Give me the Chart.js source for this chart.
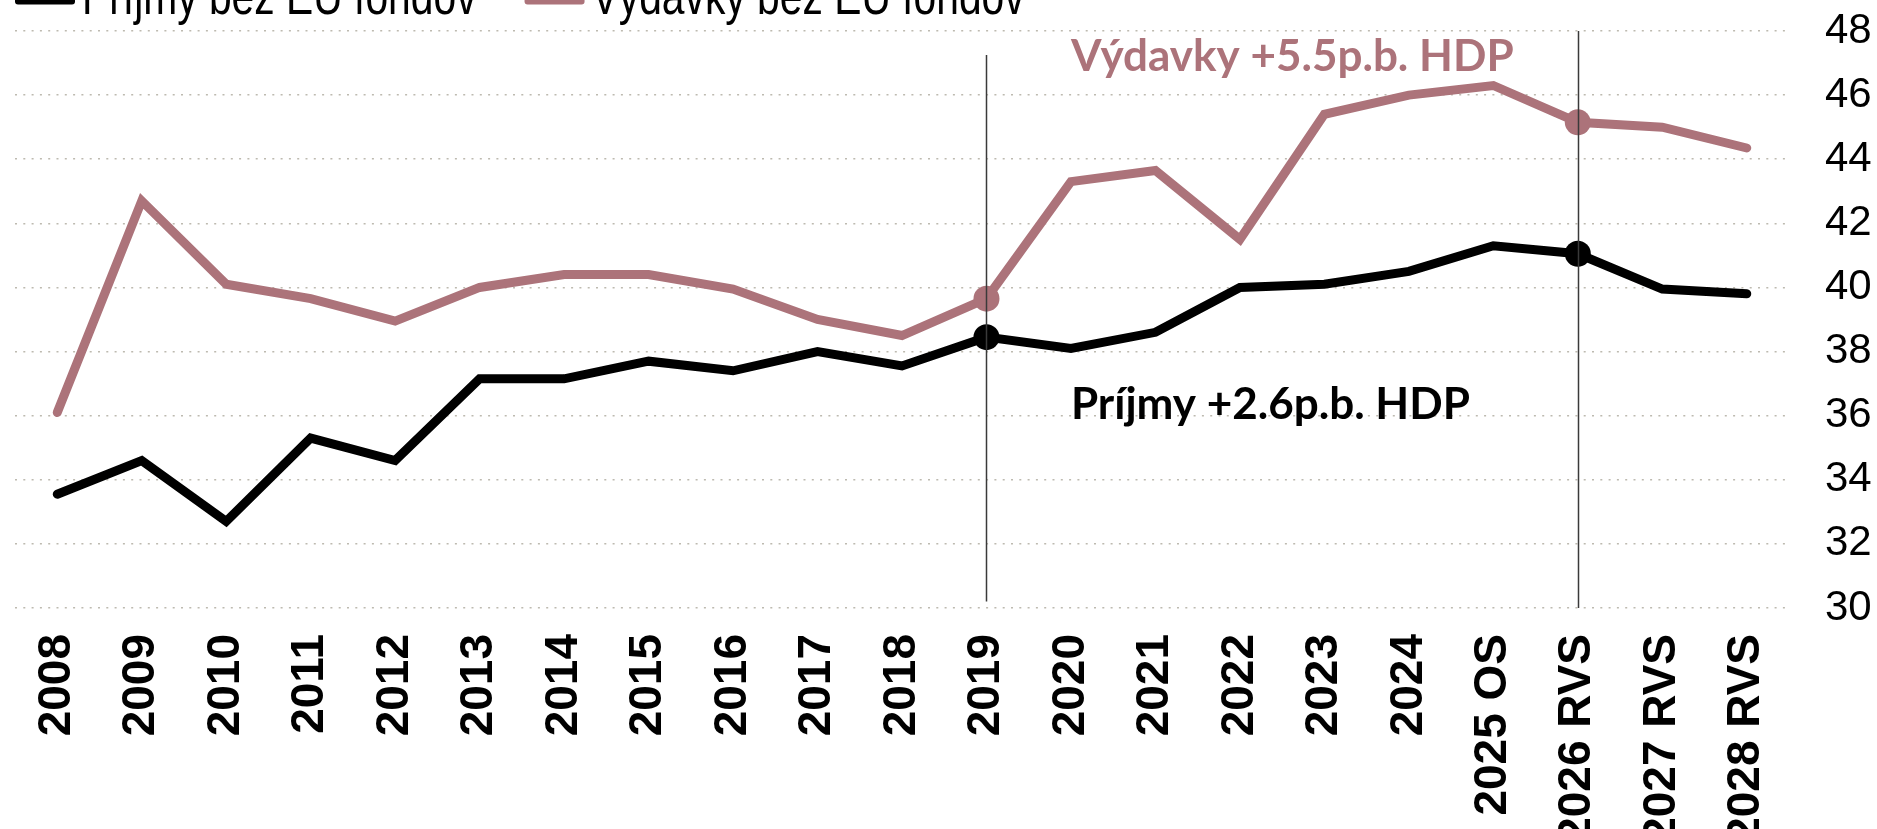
<!DOCTYPE html>
<html>
<head>
<meta charset="utf-8">
<script src="https://cdn.jsdelivr.net/npm/chart.js@4.4.1/dist/chart.umd.min.js"></script>
<style>
  html, body { margin: 0; padding: 0; overflow: hidden; background: #fff; }
  #wrap { position: relative; width: 1877px; height: 829px; }
</style>
</head>
<body>
<div id="wrap"><canvas id="chart" width="1877" height="829"></canvas></div>
<script>
// roky na osi x
const years = ["2008", "2009", "2010", "2011", "2012", "2013", "2014", "2015", "2016", "2017",
  "2018", "2019", "2020", "2021", "2022", "2023", "2024", "2025 OS", "2026 RVS", "2027 RVS", "2028 RVS"];

// % HDP, odčítané z grafu
const prijmy = [33.55, 34.6, 32.7, 35.3, 34.6, 37.15, 37.15, 37.7, 37.4, 38.0,
  37.55, 38.45, 38.1, 38.6, 40.0, 40.1, 40.5, 41.3, 41.05, 39.95, 39.8];
const vydavky = [36.1, 42.7, 40.1, 39.65, 38.95, 40.0, 40.4, 40.4, 39.95, 39.0,
  38.5, 39.65, 43.3, 43.65, 41.5, 45.4, 46.0, 46.3, 45.15, 45.0, 44.35];

const yMin = 30;
const yMax = 48;
const yStep = 2;

// zvýraznené body a zvislé čiary
const markerYears = ["2019", "2026 RVS"];
const vLineYears = ["2019", "2026 RVS"];
const vLineTop = [47.25, 48];
const vLineBottom = [30.2, 30];

// popisky v grafe
const noteTexts = ["Výdavky +5.5p.b. HDP", "Príjmy +2.6p.b. HDP"];
const noteYears = ["2020", "2020"];
const noteValues = [46.75, 35.9];

const BLACK = "#000000";
const PINK = "#ac737a";
const ARIAL = "'Liberation Sans', Arial, sans-serif";
const CALIBRI = "Lato, 'Open Sans', sans-serif";

// legenda hore (je čiastočne odrezaná ako v originále), písmo zúžené ako Arial Narrow
const topLegend = {
  id: "topLegend",
  afterDraw(chart) {
    const ctx = chart.ctx;
    const squeeze = 0.8;
    ctx.save();
    ctx.font = "51px " + ARIAL;
    ctx.textBaseline = "alphabetic";
    ctx.textAlign = "left";
    let x = 15;
    chart.data.datasets.slice().reverse().forEach((ds) => {
      ctx.fillStyle = ds.borderColor;
      ctx.beginPath();
      ctx.roundRect(x, -6, 60, 10.5, 3);
      ctx.fill();
      ctx.fillStyle = "#000";
      ctx.save();
      ctx.translate(x + 67, 14);
      ctx.scale(squeeze, 1);
      ctx.fillText(ds.label, 0, 0);
      ctx.restore();
      x += 67 + ctx.measureText(ds.label).width * squeeze + 48;
    });
    ctx.restore();
  },
};

// zvislé čiary + textové popisky
const extras = {
  id: "extras",
  afterDatasetsDraw(chart) {
    const ctx = chart.ctx;
    const xs = chart.scales.x;
    const ys = chart.scales.y;
    ctx.save();
    ctx.strokeStyle = "#3a3a3a";
    ctx.lineWidth = 1.5;
    vLineYears.forEach((yr, i) => {
      const px = Math.round(xs.getPixelForValue(years.indexOf(yr))) + 0.5;
      ctx.beginPath();
      ctx.moveTo(px, ys.getPixelForValue(vLineTop[i]));
      ctx.lineTo(px, ys.getPixelForValue(vLineBottom[i]));
      ctx.stroke();
    });
    ctx.font = "bold 44px " + CALIBRI;
    ctx.textBaseline = "alphabetic";
    ctx.textAlign = "left";
    noteTexts.forEach((t, i) => {
      ctx.fillStyle = i === 0 ? PINK : BLACK;
      ctx.fillText(t, xs.getPixelForValue(years.indexOf(noteYears[i])), ys.getPixelForValue(noteValues[i]));
    });
    ctx.restore();
  },
};

const markerRadius = years.map((y) => (markerYears.includes(y) ? 13 : 0));

new Chart(document.getElementById("chart"), {
  type: "line",
  data: {
    labels: years,
    datasets: [
      {
        label: "Výdavky bez EÚ fondov",
        data: vydavky,
        borderColor: PINK,
        backgroundColor: PINK,
        pointBackgroundColor: PINK,
        borderWidth: 9,
        borderCapStyle: "round",
        borderJoinStyle: "miter",
        pointRadius: markerRadius,
        pointHoverRadius: markerRadius,
        pointBorderWidth: 0,
        tension: 0,
        fill: false,
      },
      {
        label: "Príjmy bez EÚ fondov",
        data: prijmy,
        borderColor: BLACK,
        backgroundColor: BLACK,
        pointBackgroundColor: BLACK,
        borderWidth: 9,
        borderCapStyle: "round",
        borderJoinStyle: "miter",
        pointRadius: markerRadius,
        pointHoverRadius: markerRadius,
        pointBorderWidth: 0,
        tension: 0,
        fill: false,
      },
    ],
  },
  options: {
    responsive: false,
    animation: false,
    devicePixelRatio: 1,
    layout: { padding: { left: 15, top: 31, right: 0, bottom: 0 } },
    plugins: { legend: { display: false }, tooltip: { enabled: false } },
    scales: {
      x: {
        offset: true,
        grid: { display: false, offset: true },
        border: { display: false },
        ticks: {
          autoSkip: false,
          minRotation: 90,
          maxRotation: 90,
          padding: 18,
          color: "#000",
          font: { family: ARIAL, size: 46, weight: "bold" },
        },
        // pevná výška osi, aby plocha grafu končila tam, kde v origináli
        afterFit: (s) => { s.height = 221; s.paddingLeft = 0; s.paddingRight = 0; },
      },
      y: {
        position: "right",
        min: yMin,
        max: yMax,
        ticks: {
          stepSize: yStep,
          padding: 36,
          color: "#000",
          font: { family: ARIAL, size: 42 },
        },
        grid: { color: "#bdbab0", lineWidth: 1.5, drawTicks: false },
        border: { display: false, dash: [2, 6.3] },
        afterFit: (s) => { s.width = 88; s.paddingTop = 0; s.paddingBottom = 0; },
      },
    },
  },
  plugins: [topLegend, extras],
});
</script>
</body>
</html>
